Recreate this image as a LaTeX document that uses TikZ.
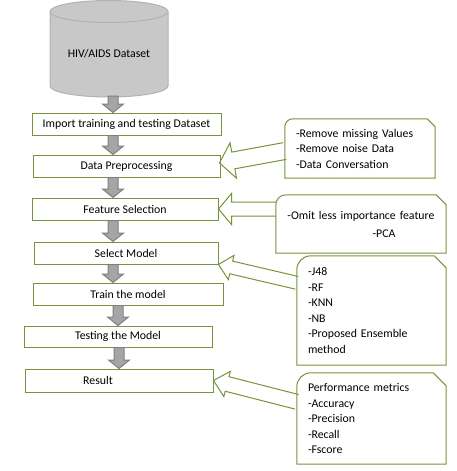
\documentclass[tikz,border=0pt]{standalone}
\usepackage{fontspec}
\setmainfont{Carlito}
\usetikzlibrary{calc}
\definecolor{leaf}{RGB}{119,147,60}
\definecolor{drumfill}{RGB}{200,200,200}
\definecolor{drumline}{RGB}{178,178,178}
\definecolor{stemfill}{RGB}{165,165,165}
\definecolor{stemline}{RGB}{127,127,127}
\newcommand\stepdown[3]{\draw[grayarrow] let \p1=(#1,0 |- #2), \p2=(#1,0 |- #3) in
  (\x1-5pt,\y1) -- (\x1+5pt,\y1) -- (\x1+5pt,\y2+8.5pt) -- (\x1+10.5pt,\y2+8.5pt) -- (\x1,\y2)
  -- (\x1-10.5pt,\y2+8.5pt) -- (\x1-5pt,\y2+8.5pt) -- cycle;}
\newcommand\fatarrow[5]{\draw[leafarrow] let \p1=($#1-#2$), \n1={atan2(\y1,\x1)} in
  ($#1+(\n1+90:#5)$) -- ($#2+(\n1:#3)+(\n1+90:#5)$) -- ($#2+(\n1:#3)+(\n1+90:#4)$) -- #2
  -- ($#2+(\n1:#3)+(\n1-90:#4)$) -- ($#2+(\n1:#3)+(\n1-90:#5)$) -- ($#1+(\n1-90:#5)$);}
\newcommand\noteframe[3]{\draw[leafarrow] (#1.south west) -- ($(#1.north west)+(0,-#2)$)
  arc[start angle=180, end angle=90, radius=#2] -- ($(#1.north east)+(-#3,0)$)
  -- ($(#1.north east)+(0,-#3)$) -- (#1.south east) -- cycle;}
\begin{document}
\begin{tikzpicture}[x=1pt, y=1pt, font=\fontsize{11.8pt}{15.5pt}\selectfont,
  stepbox/.style={draw=leaf, line width=1pt, fill=white, minimum height=22pt, inner sep=0pt},
  notebox/.style={inner ysep=0pt, align=left},
  grayarrow/.style={fill=stemfill, draw=stemline, line width=1pt},
  leafarrow/.style={draw=leaf, line width=1pt}]
  \useasboundingbox (0,0) rectangle (457,-471);
  \filldraw[fill=drumfill, draw=drumline, line width=1pt] (50,-11.5) -- (50,-86)
    arc[start angle=180, end angle=360, x radius=59, y radius=11] -- (168,-11.5)
    arc[start angle=0, end angle=180, x radius=59, y radius=11] -- cycle;
  \draw[drumline, line width=1pt] (50,-11.5) arc[start angle=180, end angle=360, x radius=59, y radius=11];
  \node (dset) at (109,-54) {HIV/AIDS Dataset};
  \coordinate (dsetbot) at (113,-96);
  \node[stepbox, minimum width=189pt] (imp) at (126.5,-124) {Import training and testing Dataset};
  \node[stepbox, minimum width=187pt] (pre) at (126.5,-166) {Data Preprocessing};
  \node[stepbox, minimum width=186pt] (fs) at (125,-209) {Feature Selection};
  \node[stepbox, minimum width=184pt] (sel) at (126,-253) {Select Model};
  \node[stepbox, minimum width=190pt] (train) at (128,-294) {Train the model};
  \node[stepbox, minimum width=188pt, minimum height=21pt] (test) at (118,-336.5) {Testing the Model};
  \node[stepbox, minimum width=188pt, minimum height=23pt] (res) at (119,-380.5) {Result\hspace*{42pt}};
  \node[notebox, text width=128pt, inner xsep=11pt, minimum height=59pt] (prenote) at (360,-148.5)
    {-Remove missing Values\\-Remove noise Data\\-Data Conversation};
  \node[notebox, text width=170pt, inner xsep=0pt, minimum height=58pt, align=center] (fsnote) at (361,-224)
    {-Omit less importance feature\\[2.5pt]\hspace*{46pt}-PCA};
  \node[notebox, text width=127pt, inner xsep=11pt, minimum height=109pt] (selnote) at (371.5,-310.5)
    {-J48\\-RF\\-KNN\\-NB\\-Proposed Ensemble\\method};
  \node[notebox, text width=127pt, inner xsep=11pt, minimum height=91pt] (resnote) at (371.5,-418.5)
    {Performance metrics\\-Accuracy\\-Precision\\-Recall\\-Fscore};
  \noteframe{prenote}{8pt}{8pt}
  \noteframe{fsnote}{10pt}{10pt}
  \noteframe{selnote}{14pt}{12pt}
  \noteframe{resnote}{14pt}{13pt}
  \coordinate (pretail) at ($(prenote.west)+(0,-2.5)$);
  \coordinate (pretip) at ($(pre.east)+(-1,3)$);
  \coordinate (fstail) at (fsnote.west |- fs.east);
  \coordinate (seltail) at ($(selnote.north west)+(0,-27)$);
  \coordinate (restail) at ($(resnote.north west)+(0,-29)$);
  \fatarrow{(pretail)}{(pretip)}{14pt}{18pt}{8.5pt}
  \fatarrow{(fstail)}{(fs.east)}{13pt}{15.5pt}{7pt}
  \fatarrow{(seltail)}{(sel.south east)}{13pt}{12.5pt}{6.5pt}
  \fatarrow{(restail)}{(res.east)}{14pt}{13pt}{7.5pt}
  \stepdown{113}{dsetbot}{imp.north}
  \stepdown{113}{imp.south}{pre.north}
  \stepdown{113}{pre.south}{fs.north}
  \stepdown{113}{fs.south}{sel.north}
  \stepdown{113}{sel.south}{train.north}
  \stepdown{118}{train.south}{test.north}
  \stepdown{119}{test.south}{res.north}
\end{tikzpicture}
\end{document}
